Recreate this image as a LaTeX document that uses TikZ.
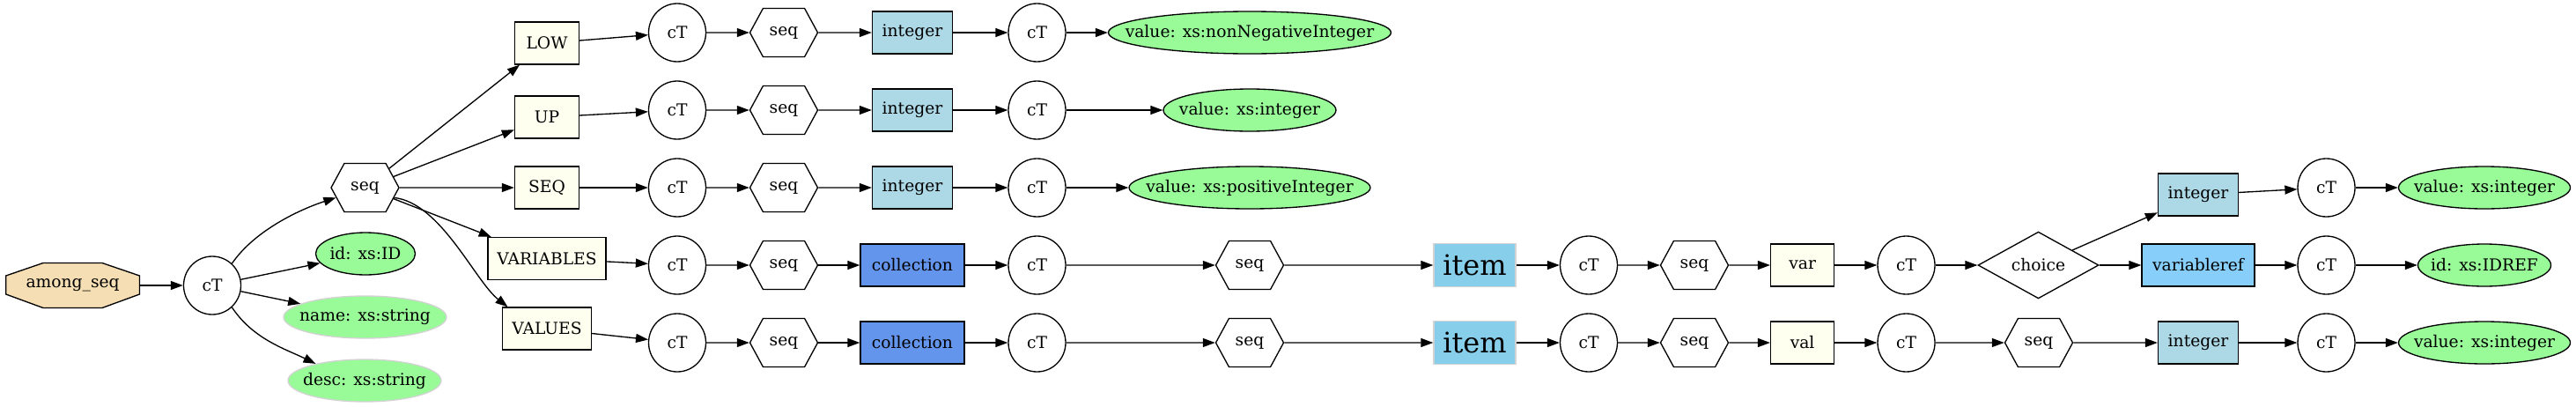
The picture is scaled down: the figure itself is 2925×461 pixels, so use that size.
\documentclass[tikz,border=0pt]{standalone}
\usepackage{fontspec}
\setmainfont{DejaVu Serif}
\usepackage{tikz}
\usetikzlibrary{shapes.geometric,shapes.symbols,arrows.meta}

\begin{document}
\begin{tikzpicture}[x=1pt,y=-1pt,
		font=\fontsize{18.7pt}{22pt}\selectfont,
		ctnode/.style={ellipse, draw, line width=1.33pt, minimum width=65pt, minimum height=66pt, inner sep=0pt},
		seqnode/.style={signal, signal to=east and west, signal pointer angle=123, draw, line width=1.33pt, minimum width=77pt, minimum height=55pt, inner sep=0pt},
		elembox/.style={rectangle, draw, fill=custcol_ff_ff_f0, line width=1.33pt, minimum height=48pt, inner sep=0pt},
		typebox/.style={elembox, fill=custcol_ad_d8_e6, minimum width=91pt},
		collbox/.style={elembox, fill=custcol_64_95_ed, minimum width=118pt},
		itembox/.style={rectangle, draw=custcol_d3_d3_d3, fill=custcol_87_ce_eb, line width=1.33pt, minimum width=93pt, minimum height=49pt, inner sep=0pt, font=\fontsize{32pt}{36pt}\selectfont},
		attrnode/.style={ellipse, draw, fill=custcol_98_fb_98, line width=1.33pt, minimum height=48pt, inner sep=0pt, label={[inner sep=0pt]center:{#1}}},
		optattr/.style={attrnode={#1}, draw=custcol_d3_d3_d3},
		link/.style={line width=1.33pt, -{Triangle[length=14pt,width=10pt]}}]
				\definecolor{custcol_f5_de_b3}{RGB}{245, 222, 179}
				\definecolor{custcol_ff_ff_f0}{RGB}{255, 255, 240}
				\definecolor{custcol_ad_d8_e6}{RGB}{173, 216, 230}
				\definecolor{custcol_64_95_ed}{RGB}{100, 149, 237}
				\definecolor{custcol_87_ce_fa}{RGB}{135, 206, 250}
				\definecolor{custcol_87_ce_eb}{RGB}{135, 206, 235}
				\definecolor{custcol_98_fb_98}{RGB}{152, 251, 152}
				\definecolor{custcol_d3_d3_d3}{RGB}{211, 211, 211}
				\useasboundingbox (0,0) rectangle (2925,461);
				% root and its attributes
				\draw [line width=1.33pt, fill=custcol_f5_de_b3]  (6.7,313) -- (49,298.5) -- (116,298.5) -- (158.5,313) -- (158.5,334) -- (116,349.5) -- (49,349.5) -- (6.7,334) -- cycle;
				\node[minimum width=152pt, minimum height=51pt, inner sep=0pt] (among) at (82.6,324) {among\_seq};
				\node[ctnode] (ct0) at (241,324) {cT};
				\node[seqnode] (seq0) at (414.5,213) {seq};
				\node[attrnode={id: xs:ID}, minimum width=113pt] (id0) at (415,288) {};
				\node[optattr={name: xs:string}, minimum width=185pt] (name0) at (414.5,360) {};
				\node[optattr={desc: xs:string}, minimum width=174pt] (desc0) at (414,432) {};
				\node[elembox, minimum width=73pt] (low) at (621,49) {LOW};
				\node[elembox, minimum width=73pt] (up) at (621,133) {UP};
				\node[elembox, minimum width=73pt] (seqel) at (621,213) {SEQ};
				\node[elembox, minimum width=134pt] (variables) at (621,293.5) {VARIABLES};
				\node[elembox, minimum width=101pt] (values) at (621,373) {VALUES};
				% LOW
				\node[ctnode] (ct11) at (769,37) {cT};
				\node[seqnode] (seq11) at (890,37) {seq};
				\node[typebox] (int11) at (1036,37) {integer};
				\node[ctnode] (ct12) at (1177.5,37) {cT};
				\node[attrnode={value: xs:nonNegativeInteger}, minimum width=321pt] (val11) at (1419,37) {};
				% UP
				\node[ctnode] (ct21) at (769,125) {cT};
				\node[seqnode] (seq21) at (890,125) {seq};
				\node[typebox] (int21) at (1036,125) {integer};
				\node[ctnode] (ct22) at (1177.5,125) {cT};
				\node[attrnode={value: xs:integer}, minimum width=196pt] (val21) at (1419,125) {};
				% SEQ
				\node[ctnode] (ct31) at (769,213) {cT};
				\node[seqnode] (seq31) at (890,213) {seq};
				\node[typebox] (int31) at (1036,213) {integer};
				\node[ctnode] (ct32) at (1177.5,213) {cT};
				\node[attrnode={value: xs:positiveInteger}, minimum width=274pt] (val31) at (1419,213) {};
				% VARIABLES
				\node[ctnode] (ct41) at (769,301) {cT};
				\node[seqnode] (seq41) at (890,301) {seq};
				\node[collbox] (coll4) at (1036,301) {collection};
				\node[ctnode] (ct42) at (1177.5,301) {cT};
				\node[seqnode] (seq42) at (1419,301) {seq};
				\node[itembox] (item4) at (1674.5,301) {item};
				\node[ctnode] (ct43) at (1804,301) {cT};
				\node[seqnode] (seq43) at (1924,301) {seq};
				\node[elembox, minimum width=72pt] (var4) at (2046.6,301) {var};
				\node[ctnode] (ct44) at (2164.5,301) {cT};
				\node[diamond, draw, line width=1.33pt, minimum width=137pt, minimum height=66pt, inner sep=0pt] (choice4) at (2314.5,301) {choice};
				\node[typebox] (int4) at (2496,221) {integer};
				\node[ctnode] (ct45) at (2641.5,213) {cT};
				\node[attrnode={value: xs:integer}, minimum width=195pt] (val4) at (2821,213) {};
				\node[elembox, fill=custcol_87_ce_fa, minimum width=128pt] (vref4) at (2496,301) {variableref};
				\node[ctnode] (ct46) at (2641.5,301) {cT};
				\node[attrnode={id: xs:IDREF}, minimum width=151pt] (idref4) at (2821,301) {};
				% VALUES
				\node[ctnode] (ct51) at (769,389) {cT};
				\node[seqnode] (seq51) at (890,389) {seq};
				\node[collbox] (coll5) at (1036,389) {collection};
				\node[ctnode] (ct52) at (1177.5,389) {cT};
				\node[seqnode] (seq52) at (1419,389) {seq};
				\node[itembox] (item5) at (1674.5,389) {item};
				\node[ctnode] (ct53) at (1804,389) {cT};
				\node[seqnode] (seq53) at (1924,389) {seq};
				\node[elembox, minimum width=72pt] (val5) at (2046.6,389) {val};
				\node[ctnode] (ct54) at (2164.5,389) {cT};
				\node[seqnode] (seq54) at (2315,389) {seq};
				\node[typebox] (int5) at (2496,389) {integer};
				\node[ctnode] (ct55) at (2641.5,389) {cT};
				\node[attrnode={value: xs:integer}, minimum width=195pt] (value5) at (2821,389) {};
				% edges
				\draw [link] (among) -- (ct0);
				\draw [link] (ct0.48) .. controls +(26,-38) and +(-40,13) .. (seq0.199);
				\draw [link] (ct0) -- (id0);
				\draw [link] (ct0) -- (name0);
				\draw [link] (ct0.312) .. controls +(24,36) and +(-35,-17) .. (desc0.161);
				\draw [link] (seq0) -- (low);
				\draw [link] (seq0) -- (up);
				\draw [link] (seq0) -- (seqel);
				\draw [link] (seq0) -- (variables);
				\draw [link] (seq0.341) .. controls +(53,6) and +(-37,-29) .. (values.151);
				\draw [link] (low) -- (ct11);
				\draw [link] (ct11) -- (seq11);
				\draw [link] (seq11) -- (int11);
				\draw [link] (int11) -- (ct12);
				\draw [link] (ct12) -- (val11);
				\draw [link] (up) -- (ct21);
				\draw [link] (ct21) -- (seq21);
				\draw [link] (seq21) -- (int21);
				\draw [link] (int21) -- (ct22);
				\draw [link] (ct22) -- (val21);
				\draw [link] (seqel) -- (ct31);
				\draw [link] (ct31) -- (seq31);
				\draw [link] (seq31) -- (int31);
				\draw [link] (int31) -- (ct32);
				\draw [link] (ct32) -- (val31);
				\draw [link] (variables) -- (ct41);
				\draw [link] (ct41) -- (seq41);
				\draw [link] (seq41) -- (coll4);
				\draw [link] (coll4) -- (ct42);
				\draw [link] (ct42) -- (seq42);
				\draw [link] (seq42) -- (item4);
				\draw [link] (item4) -- (ct43);
				\draw [link] (ct43) -- (seq43);
				\draw [link] (seq43) -- (var4);
				\draw [link] (var4) -- (ct44);
				\draw [link] (ct44) -- (choice4);
				\draw [link] (choice4) -- (int4);
				\draw [link] (int4) -- (ct45);
				\draw [link] (ct45) -- (val4);
				\draw [link] (choice4) -- (vref4);
				\draw [link] (vref4) -- (ct46);
				\draw [link] (ct46) -- (idref4);
				\draw [link] (values) -- (ct51);
				\draw [link] (ct51) -- (seq51);
				\draw [link] (seq51) -- (coll5);
				\draw [link] (coll5) -- (ct52);
				\draw [link] (ct52) -- (seq52);
				\draw [link] (seq52) -- (item5);
				\draw [link] (item5) -- (ct53);
				\draw [link] (ct53) -- (seq53);
				\draw [link] (seq53) -- (val5);
				\draw [link] (val5) -- (ct54);
				\draw [link] (ct54) -- (seq54);
				\draw [link] (seq54) -- (int5);
				\draw [link] (int5) -- (ct55);
				\draw [link] (ct55) -- (value5);
\end{tikzpicture}
\end{document}
